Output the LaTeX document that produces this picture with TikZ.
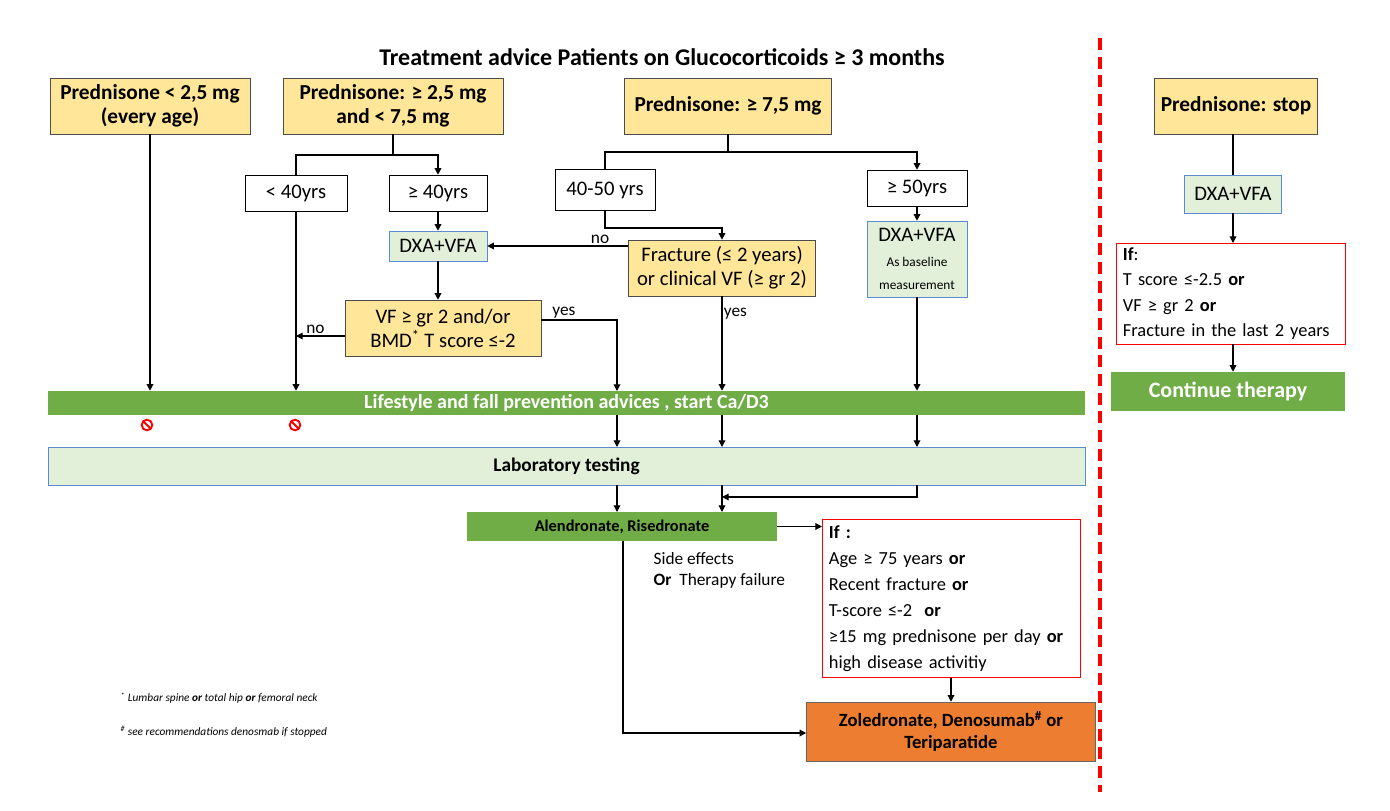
\documentclass[tikz,border=0pt]{standalone}
\usepackage{fontspec}
\setmainfont{Carlito}
\usetikzlibrary{arrows.meta}
\definecolor{pale}{HTML}{FFE699}
\definecolor{leaf}{HTML}{70AD47}
\definecolor{mint}{HTML}{E2F0D9}
\definecolor{steel}{HTML}{5B8BD0}
\definecolor{flame}{HTML}{ED7D31}
\tikzset{
  % node options
  sz/.style 2 args={minimum width=#1*0.75pt,minimum height=#2*0.75pt,inner sep=1pt},
  dose/.style={draw=black!70,fill=pale,font=\fontsize{16}{18}\selectfont\bfseries,align=center},
  age/.style={draw=black,fill=white,font=\fontsize{15.5}{17}\selectfont,align=center},
  scan/.style={draw=steel,fill=mint,font=\fontsize{15.5}{17}\selectfont,align=center},
  bar/.style={fill=leaf,text=white,font=\fontsize{15}{17}\selectfont\bfseries},
  cond/.style={draw=red,fill=white,font=\fontsize{13.8}{19.5}\selectfont,align=left,text width=#1*0.75pt-10pt,inner xsep=5pt},
  drug/.style={draw=black!60,fill=flame,font=\fontsize{14}{16.5}\selectfont\bfseries,align=center},
  lbl/.style={font=\fontsize{13}{16}\selectfont,inner sep=1pt},
  ban/.style={circle,draw=red,line width=1.4pt,minimum size=8pt,inner sep=0pt,
    path picture={\draw[red,line width=1.4pt] (path picture bounding box.north west) -- (path picture bounding box.south east);}},
  % path options
  flow/.style={-{Triangle[length=5pt,width=5pt]},line width=0.9pt},
  link/.style={line width=0.9pt},
}
\begin{document}
\begin{tikzpicture}[x=0.75pt,y=-0.75pt]
\useasboundingbox (0,0) rectangle (1390,811);
\node[font=\fontsize{18}{20}\selectfont\bfseries] (title) at (662,57) {Treatment advice Patients on Glucocorticoids ≥ 3 months};
\draw[red,line width=3.5pt,dash pattern=on 9pt off 5pt] (1100,38) -- (1100,792);
% doses
\node[dose,sz={200}{56}] (low) at (150,106) {Prednisone < 2,5 mg\\(every age)};
\node[dose,sz={220}{56}] (mid) at (393,106) {Prednisone: ≥ 2,5 mg\\and < 7,5 mg};
\node[dose,sz={207}{56}] (high) at (728,106) {Prednisone: ≥ 7,5 mg};
\node[dose,sz={163}{56}] (stop) at (1236,106) {Prednisone: stop};
% ages
\node[age,sz={102}{36}] (under40) at (296,193) {< 40yrs};
\node[age,sz={98}{36}] (over40) at (438,193) {≥ 40yrs};
\node[age,sz={100}{41}] (mid50) at (605,190) {40-50 yrs};
\node[age,sz={100}{36}] (over50) at (917,188) {≥ 50yrs};
% checks
\node[scan,sz={98}{30}] (dxaA) at (438,246) {DXA+VFA};
\node[dose,sz={187}{56},font=\fontsize{15.5}{18}\selectfont] (fract) at (722,268) {Fracture (≤ 2 years)\\or clinical VF (≥ gr 2)};
\node[scan,sz={100}{76},align=center] (dxaB) at (917,259) {DXA+VFA\\[2pt]{\fontsize{10}{12}\selectfont As baseline}\\{\fontsize{10}{12}\selectfont measurement}};
\node[dose,sz={196}{56},font=\fontsize{15.5}{18}\selectfont] (vf) at (443,328) {VF ≥ gr 2 and/or\\BMD\textsuperscript{*} T score ≤-2};
% bars
\node[bar,sz={1037}{24}] (life) at (566.5,403) {Lifestyle and fall prevention advices , start Ca/D3};
\node[ban] (banA) at (147,425) {};
\node[ban] (banB) at (295,425) {};
\node[scan,sz={1037}{38},font=\fontsize{14.5}{17}\selectfont\bfseries] (lab) at (566.5,466) {Laboratory testing};
\node[fill=leaf,sz={310}{29},font=\fontsize{12.3}{14}\selectfont\bfseries] (alen) at (622,526.5) {Alendronate, Risedronate};
\node[cond=258,minimum height=158*0.75pt,anchor=north west] (risk) at (822,519) {\textbf{If :}\\Age ≥ 75 years \textbf{or}\\Recent fracture \textbf{or}\\T-score ≤-2~ \textbf{or}\\≥15 mg prednisone per day \textbf{or}\\high disease activitiy};
\node[drug,sz={289}{59}] (zol) at (951,731.5) {Zoledronate, Denosumab\textsuperscript{\#} or\\Teriparatide};
\node[lbl,align=left,anchor=north west] (side) at (652,551) {Side effects\\\textbf{Or}~ Therapy failure};
% right column
\node[scan,sz={97}{38}] (dxaC) at (1233,194) {DXA+VFA};
\node[cond=229,minimum height=99*0.75pt,anchor=north west,font=\fontsize{13.8}{19}\selectfont] (stopif) at (1116,243) {\textbf{If}:\\T score ≤-2.5 \textbf{or}\\VF ≥ gr 2 \textbf{or}\\Fracture in the last 2 years};
\node[bar,sz={234}{39},font=\fontsize{16.5}{18}\selectfont\bfseries] (cont) at (1228,391.5) {Continue therapy};
% notes
\node[font=\fontsize{8.5}{10}\selectfont\itshape,anchor=west] (noteA) at (116,698) {\textsuperscript{*} Lumbar spine \textbf{or} total hip \textbf{or} femoral neck};
\node[font=\fontsize{8.5}{10}\selectfont\itshape,anchor=west] (noteB) at (116,732) {\textsuperscript{\#} see recommendations denosmab if stopped};
% connectors
\draw[flow] (low) -- (low |- life.north);
\draw[link] (mid) -- (393,155) -| (under40);
\draw[flow] (393,155) -| (over40);
\draw[link] (high) -- (728,152) -| (mid50);
\draw[flow] (728,152) -| (over50);
\draw[flow] (under40) -- (under40 |- life.north);
\draw[flow] (over40) -- (dxaA);
\draw[flow] (mid50) -- (605,228) -| (fract);
\draw[flow] (fract.west |- dxaA) -- node[lbl,above,pos=0.2] {no} (dxaA.east);
\draw[flow] (dxaA) -- (vf.north -| dxaA);
\draw[flow] (vf.west |- 0,336) -- node[lbl,above,pos=0.6] {no} (296,336);
\draw[flow] (vf.east |- 0,320) -- node[lbl,above,pos=0.3] {yes} (617,320) -- (617,391);
\draw[flow] (fract) -- node[lbl,right,pos=0.18] {yes} (fract |- life.north);
\draw[flow] (over50) -- (dxaB);
\draw[flow] (dxaB) -- (dxaB |- life.north);
\foreach \x in {617,722,917}
  \draw[flow] (\x,415) -- (\x,447);
\foreach \x in {617,722}
  \draw[flow] (\x,485) -- (\x,512);
\draw[flow] (917,485) -- (917,497) -- (722,497);
\draw[flow] (alen.east) -- (risk.west |- alen.east);
\draw[flow] (risk.south -| zol) -- (zol);
\draw[flow] (623,541) -- (623,733) -- (zol.west |- 0,733);
\draw[link] (stop.south -| dxaC) -- (dxaC);
\draw[flow] (dxaC) -- (stopif.north -| dxaC);
\draw[flow] (stopif.south -| dxaC) -- (cont.north -| dxaC);
\end{tikzpicture}
\end{document}
